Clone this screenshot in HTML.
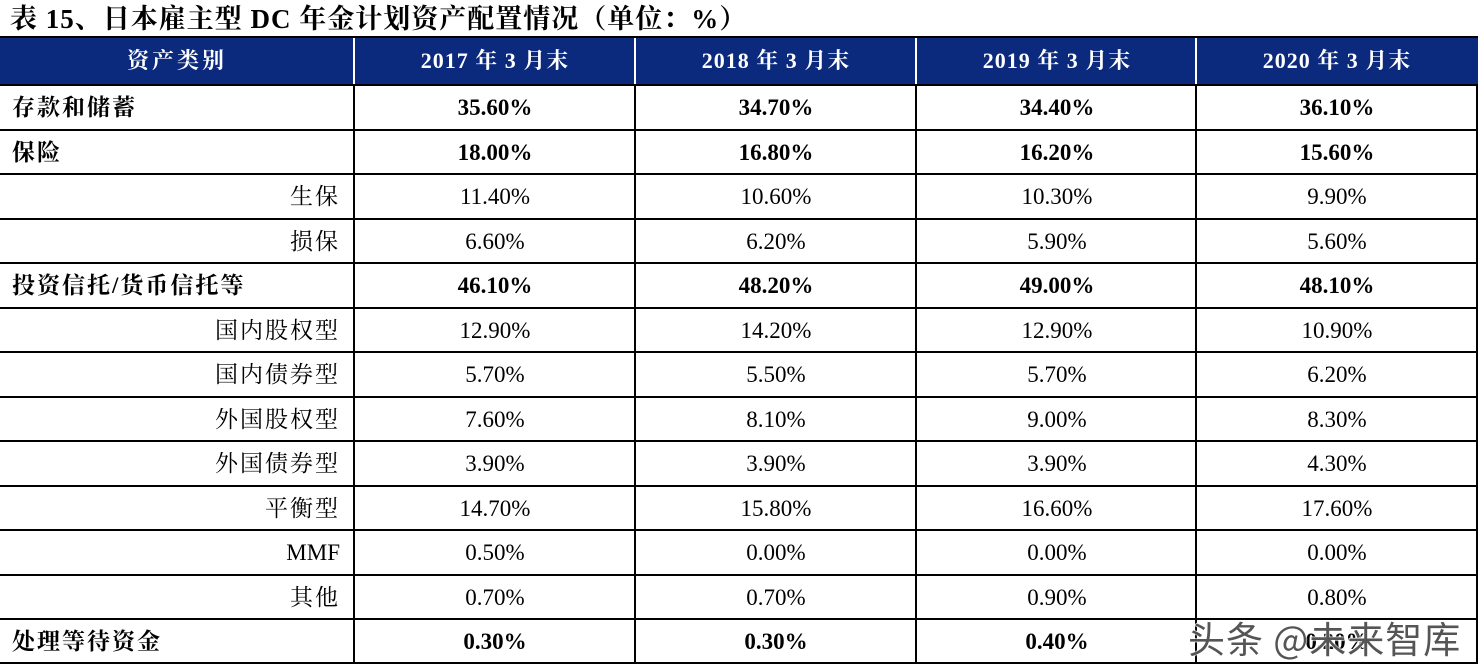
<!DOCTYPE html>
<html><head><meta charset="utf-8"><style>
body{margin:0;width:1484px;height:669px;background:#fff;position:relative;overflow:hidden;font-family:"Liberation Serif","Noto Serif CJK SC",serif;}
.t{position:absolute;left:10px;top:1px;font-size:27px;font-weight:bold;color:#000;white-space:nowrap;line-height:36px;letter-spacing:1px}
.hd{position:absolute;left:0;top:38px;width:1478px;height:46px;background:#0b2a7e;}
.hl{position:absolute;left:0;height:2px;background:#000;width:1478px}
.vl{position:absolute;width:2px;background:#000;top:84px;height:580px}
.vw{position:absolute;width:2px;background:#fff;top:38px;height:46px}
.c{position:absolute;text-align:center;font-size:23px;line-height:44px;white-space:nowrap}
.h{color:#fff;font-weight:bold;font-size:22px;line-height:46px;top:38px;letter-spacing:1px}
.b{font-weight:bold}
.cj{letter-spacing:2px}
.wm{position:absolute;left:1188px;top:610px;font-family:"Noto Sans CJK SC",sans-serif;font-size:37px;color:#555;-webkit-text-stroke:1px #fff;paint-order:stroke;letter-spacing:1px;text-shadow:0 0 2px #fff}
</style></head><body>
<div class="t">表 15、日本雇主型 DC 年金计划资产配置情况（单位：%）</div>
<div class="hl" style="top:36px;height:2px"></div>
<div class="hd"></div>
<div class="vw" style="left:353px"></div><div class="vw" style="left:634px"></div><div class="vw" style="left:915px"></div><div class="vw" style="left:1195px"></div>
<div class="c h" style="left:0;width:354px;letter-spacing:3px">资产类别</div>
<div class="c h" style="left:355px;width:280px">2017 年 3 月末</div>
<div class="c h" style="left:636px;width:280px">2018 年 3 月末</div>
<div class="c h" style="left:917px;width:280px">2019 年 3 月末</div>
<div class="c h" style="left:1197px;width:280px">2020 年 3 月末</div>
<div class="vl" style="left:353px"></div><div class="vl" style="left:634px"></div><div class="vl" style="left:915px"></div><div class="vl" style="left:1195px"></div><div class="vl" style="left:1476px"></div>
<div id="rows"></div>
<script>
var d=[["存款和储蓄",1,"35.60%","34.70%","34.40%","36.10%"],["保险",1,"18.00%","16.80%","16.20%","15.60%"],["生保",0,"11.40%","10.60%","10.30%","9.90%"],["损保",0,"6.60%","6.20%","5.90%","5.60%"],["投资信托/货币信托等",1,"46.10%","48.20%","49.00%","48.10%"],["国内股权型",0,"12.90%","14.20%","12.90%","10.90%"],["国内债券型",0,"5.70%","5.50%","5.70%","6.20%"],["外国股权型",0,"7.60%","8.10%","9.00%","8.30%"],["外国债券型",0,"3.90%","3.90%","3.90%","4.30%"],["平衡型",0,"14.70%","15.80%","16.60%","17.60%"],["MMF",0,"0.50%","0.00%","0.00%","0.00%"],["其他",0,"0.70%","0.70%","0.90%","0.80%"],["处理等待资金",1,"0.30%","0.30%","0.40%","0.20%"]];
var h="",xs=[355,636,917,1197];
for(var i=0;i<d.length;i++){var y=85+i*44.5;var r=d[i];
h+='<div class="hl" style="top:'+Math.round(y-1)+'px"></div>';
var ty=Math.round(y+1);
var cls=r[0]=="MMF"?"":" cj";
if(r[1])h+='<div class="c b'+cls+'" style="left:12px;top:'+ty+'px;text-align:left">'+r[0]+'</div>';
else h+='<div class="c'+cls+'" style="left:0;width:340px;top:'+ty+'px;text-align:right">'+r[0]+'</div>';
for(var j=0;j<4;j++)h+='<div class="c'+(r[1]?' b':'')+'" style="left:'+xs[j]+'px;width:280px;top:'+ty+'px">'+r[j+2]+'</div>';}
h+='<div class="hl" style="top:662px"></div>';
document.getElementById("rows").innerHTML=h;
</script>
<div class="wm">头条 @未来智库</div>
</body></html>
